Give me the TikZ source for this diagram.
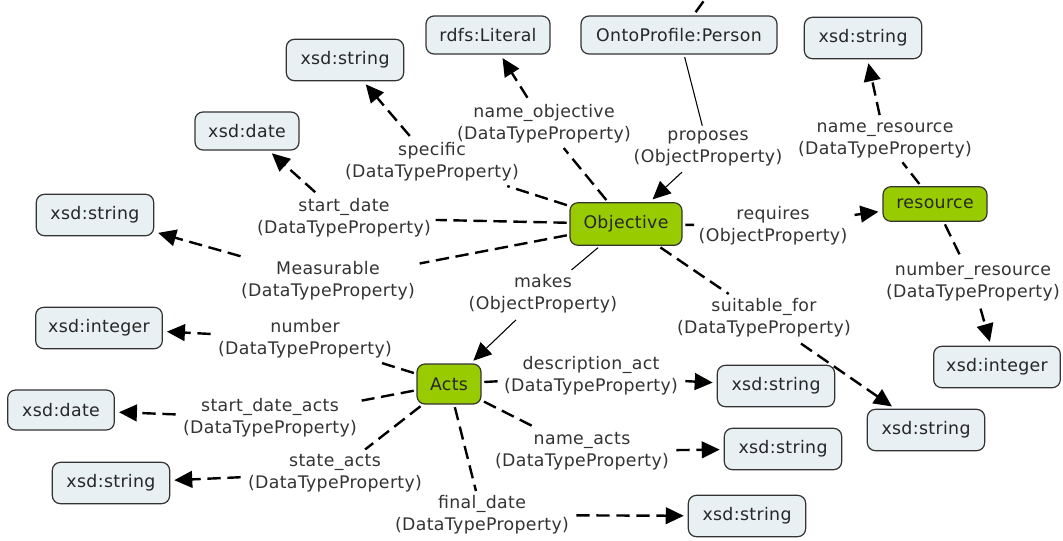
\documentclass[tikz,border=0pt]{standalone}
\usepackage{fontspec}
\setmainfont{DejaVu Sans}[LetterSpace=2]
\usetikzlibrary{arrows.meta}
\definecolor{conceptfill}{HTML}{E8F0F4}
\definecolor{keyfill}{HTML}{99CC00}
\definecolor{edgegray}{HTML}{333333}
\newcommand\lblfont{\fontsize{13pt}{16.5pt}\selectfont}
\tikzset{
  concept/.style={draw=edgegray, line width=0.9pt, rounded corners=6pt, fill=conceptfill,
    inner sep=0pt, minimum height=31pt, text=black!85, font=\lblfont},
  key/.style={concept, fill=keyfill},
  phrase/.style={align=center, inner sep=1pt, outer sep=2.5pt, text=black!80, font=\lblfont},
  dl/.style={draw=black, line width=1.8pt, dash pattern=on 10pt off 5pt, shorten <=2pt},
  sl/.style={draw=black, line width=0.8pt, shorten <=2pt},
  tip/.style={-{Triangle[length=13.5pt,width=12.5pt]}, shorten >=3pt},
}
\begin{document}
\begin{tikzpicture}[x=0.75pt,y=-0.75pt]
\useasboundingbox (0,0) rectangle (1063,540);
\clip (0,0) rectangle (1063,540);

% main concepts
\node[key, minimum width=84pt, minimum height=32pt] (obj) at (626,224) {Objective};
\node[key, minimum width=48pt, minimum height=30pt] (acts) at (449,384) {Acts};
\node[key, minimum width=78pt, minimum height=26pt] (res) at (935,204) {resource};

% ranges
\node[concept, minimum width=88pt] (s1) at (345,60) {xsd:string};
\node[concept, minimum width=78pt, minimum height=28.5pt] (d1) at (247,131) {xsd:date};
\node[concept, minimum width=88pt] (s2) at (95,215) {xsd:string};
\node[concept, minimum width=93pt, minimum height=28.5pt] (lit) at (488,35) {rdfs:Literal};
\node[concept, minimum width=147pt, minimum height=28.5pt] (person) at (679,35) {OntoProfile:Person};
\node[concept, minimum width=88pt] (s3) at (863,38) {xsd:string};
\node[concept, minimum width=95pt] (i1) at (997,367) {xsd:integer};
\node[concept, minimum width=88pt] (s4) at (776,386) {xsd:string};
\node[concept, minimum width=88pt] (s5) at (926,430) {xsd:string};
\node[concept, minimum width=88pt] (s6) at (783,449) {xsd:string};
\node[concept, minimum width=88pt] (s7) at (747,516) {xsd:string};
\node[concept, minimum width=95pt] (i2) at (99,328) {xsd:integer};
\node[concept, minimum width=80pt, minimum height=30pt] (d2) at (61,410) {xsd:date};
\node[concept, minimum width=88pt] (s8) at (111,483) {xsd:string};

% linking phrases
\node[phrase] (pspec) at (432,162) {specific\\(DataTypeProperty)};
\node[phrase] (pstart) at (344,218) {start\_date\\(DataTypeProperty)};
\node[phrase] (pmeas) at (328,281) {Measurable\\(DataTypeProperty)};
\node[phrase] (pname) at (544,124) {name\_objective\\(DataTypeProperty)};
\node[phrase] (pprop) at (708,148) {proposes\\(ObjectProperty)};
\node[phrase] (preq) at (773,226) {requires\\(ObjectProperty)};
\node[phrase] (pnres) at (885,140) {name\_resource\\(DataTypeProperty)};
\node[phrase] (pnumres) at (973,282) {number\_resource\\(DataTypeProperty)};
\node[phrase] (psuit) at (764,318) {suitable\_for\\(DataTypeProperty)};
\node[phrase] (pmakes) at (543,294) {makes\\(ObjectProperty)};
\node[phrase] (pnum) at (305,339) {number\\(DataTypeProperty)};
\node[phrase] (psda) at (270,418) {start\_date\_acts\\(DataTypeProperty)};
\node[phrase] (pstate) at (335,473) {state\_acts\\(DataTypeProperty)};
\node[phrase] (pdesc) at (591,376) {description\_act\\(DataTypeProperty)};
\node[phrase] (pnacts) at (582,451) {name\_acts\\(DataTypeProperty)};
\node[phrase] (pfinal) at (482,515) {final\_date\\(DataTypeProperty)};

% connectors
\coordinate (offtop) at (711,-9);
\draw[dl, shorten <=3pt] (person) -- (offtop);

\draw[dl] (obj) -- (pspec);   \draw[dl,tip] (pspec) -- (s1);
\draw[dl] (obj) -- (pstart);  \draw[dl,tip] (pstart) -- (d1);
\draw[dl] (obj) -- (pmeas);   \draw[dl,tip] (pmeas) -- (s2);
\draw[dl] (obj) -- (pname);   \draw[dl,tip] (pname) -- (lit);
\draw[sl] (person) -- (pprop); \draw[sl,tip] (pprop) -- (obj);
\draw[dl] (obj) -- (preq);    \draw[dl,tip] (preq) -- (res);
\draw[dl] (res) -- (pnres);   \draw[dl,tip] (pnres) -- (s3);
\draw[dl] (res) -- (pnumres); \draw[dl,tip] (pnumres) -- (i1);
\draw[dl] (obj) -- (psuit);   \draw[dl,tip] (psuit) -- (s5);
\draw[sl] (obj) -- (pmakes);  \draw[sl,tip] (pmakes) -- (acts);
\draw[dl] (acts) -- (pnum);   \draw[dl,tip] (pnum) -- (i2);
\draw[dl] (acts) -- (psda);   \draw[dl,tip] (psda) -- (d2);
\draw[dl] (acts) -- (pstate); \draw[dl,tip] (pstate) -- (s8);
\draw[dl] (acts) -- (pdesc);  \draw[dl,tip] (pdesc) -- (s4);
\draw[dl] (acts) -- (pnacts); \draw[dl,tip] (pnacts) -- (s6);
\draw[dl] (acts) -- (pfinal); \draw[dl,tip] (pfinal) -- (s7);
\end{tikzpicture}
\end{document}
